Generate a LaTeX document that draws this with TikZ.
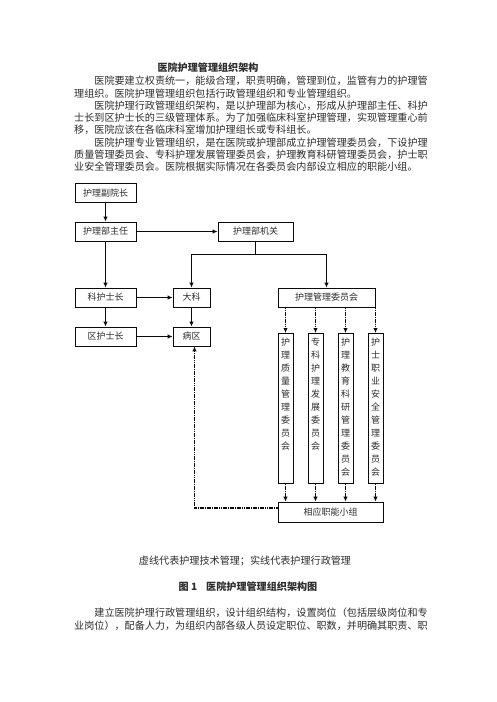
\documentclass[tikz,border=0pt]{standalone}
\usepackage{fontspec}
\setmainfont{Noto Sans CJK SC}
\usetikzlibrary{arrows.meta}
\usetikzlibrary{positioning}
\definecolor{inkGray}{RGB}{45,45,45}
\definecolor{lineBlack}{RGB}{10,10,10}

\begin{document}
\begin{tikzpicture}[
    x=1pt,
    y=-1pt,
    unit/.style={
        draw=lineBlack,
        line width=0.8pt,
        minimum height=19pt,
        inner sep=0pt,
        text=inkGray,
        font=\fontsize{9}{11}\selectfont
    },
    committee/.style={
        draw=lineBlack,
        line width=0.8pt,
        minimum width=15pt,
        minimum height=150pt,
        inner sep=0pt,
        anchor=north
    },
    vtext/.style={
        align=center,
        inner sep=0pt,
        text=inkGray,
        font=\fontsize{9}{13}\selectfont
    },
    admin/.style={
        lineBlack,
        line width=1pt,
        -{Latex[length=5pt,width=4.5pt]}
    },
    tech/.style={
        lineBlack,
        line width=1.8pt,
        dash pattern=on 1.6pt off 0.7pt,
        -{Latex[length=5pt,width=4.5pt]}
    },
    bodyline/.style={
        anchor=west,
        inner sep=0pt,
        text=inkGray,
        font=\fontsize{10.1}{12}\selectfont
    },
    heading/.style={
        inner sep=0pt,
        text=inkGray,
        font=\fontsize{10.1}{12}\selectfont\bfseries
    }
]

\fill[white] (0,0) rectangle (496,702);
\useasboundingbox (0,0) rectangle (496,702);

%------------------------------------------------
% Text above the chart
%------------------------------------------------
\node[heading] (title) at (208,68) {医院护理管理组织架构};

\node[bodyline] (pa1) at (94.2,81) {医院要建立权责统一，能级合理，职责明确，管理到位，监管有力的护理管};
\node[bodyline] (pa2) at (74,93.3) {理组织。医院护理管理组织包括行政管理组织和专业管理组织。};
\node[bodyline] (pb1) at (94.2,105.6) {医院护理行政管理组织架构，是以护理部为核心，形成从护理部主任、科护};
\node[bodyline] (pb2) at (74,117.9) {士长到区护士长的三级管理体系。为了加强临床科室护理管理，实现管理重心前};
\node[bodyline] (pb3) at (74,130.2) {移，医院应该在各临床科室增加护理组长或专科组长。};
\node[bodyline] (pc1) at (94.2,142.5) {医院护理专业管理组织，是在医院或护理部成立护理管理委员会，下设护理};
\node[bodyline] (pc2) at (74,154.8) {质量管理委员会、专科护理发展管理委员会，护理教育科研管理委员会，护士职};
\node[bodyline] (pc3) at (74,167.1) {业安全管理委员会。医院根据实际情况在各委员会内部设立相应的职能小组。};

%------------------------------------------------
% Administrative line (solid)
%------------------------------------------------
\node[unit, minimum width=61pt] (fyz) at (105.5,193) {护理副院长};
\node[unit, minimum width=61pt] (zr) at (105.5,231.5) {护理部主任};
\node[unit, minimum width=75pt] (jg) at (255.5,231.5) {护理部机关};
\node[unit, minimum width=61pt] (khs) at (105.5,297.5) {科护士长};
\node[unit, minimum width=37pt] (dk) at (191.5,297.5) {大科};
\node[unit, minimum width=97pt] (wy) at (326.5,297.5) {护理管理委员会};
\node[unit, minimum width=61pt] (qhs) at (105.5,336.5) {区护士长};
\node[unit, minimum width=37pt] (bq) at (191.5,336.5) {病区};

\coordinate (split) at (255.5,254.5);

\draw[admin] (fyz) -- (zr);
\draw[admin] (zr) -- (jg);
\draw[admin] (zr) -- (khs);
\draw[admin] (jg.south) -- (split) -| (dk.north);
\draw[admin] (split) -| (wy.north);
\draw[admin] (khs) -- (dk);
\draw[admin] (khs) -- (qhs);
\draw[admin] (dk) -- (bq);
\draw[admin] (qhs) -- (bq);

%------------------------------------------------
% Committees (dotted = technical line)
%------------------------------------------------
\node[committee] (q1) at (285.5,333) {};
\node[committee] (q2) at (315.5,333) {};
\node[committee] (q3) at (345.5,333) {};
\node[committee] (q4) at (375.5,333) {};

\node[vtext, below=5pt of q1.north] (q1t) {护\\理\\质\\量\\管\\理\\委\\员\\会};
\node[vtext, below=5pt of q2.north] (q2t) {专\\科\\护\\理\\发\\展\\委\\员\\会};
\node[vtext, below=5pt of q3.north] (q3t) {护\\理\\教\\育\\科\\研\\管\\理\\委\\员\\会};
\node[vtext, below=5pt of q4.north] (q4t) {护\\士\\职\\业\\安\\全\\管\\理\\委\\员\\会};

\node[unit, minimum width=105pt, minimum height=20pt] (xz) at (330.5,512) {相应职能小组};

\foreach \q in {q1,q2,q3,q4}{
    \draw[tech] (\q.north |- wy.south) -- (\q.north);
    \draw[tech] (\q.south) -- (\q.south |- xz.north);
}

\draw[tech] ([yshift=4pt]xz.west) -| ([xshift=3pt]bq.south);

%------------------------------------------------
% Legend, caption and following text
%------------------------------------------------
\node[bodyline, anchor=center] (legend) at (245,561) {虚线代表护理技术管理；实线代表护理行政管理};
\node[heading] (caption) at (248,587) {图 1\hspace{9pt}医院护理管理组织架构图};

\node[bodyline] (pd1) at (94.2,613) {建立医院护理行政管理组织，设计组织结构，设置岗位（包括层级岗位和专};
\node[bodyline] (pd2) at (74,625.5) {业岗位），配备人力，为组织内部各级人员设定职位、职数，并明确其职责、职};

\end{tikzpicture}
\end{document}
